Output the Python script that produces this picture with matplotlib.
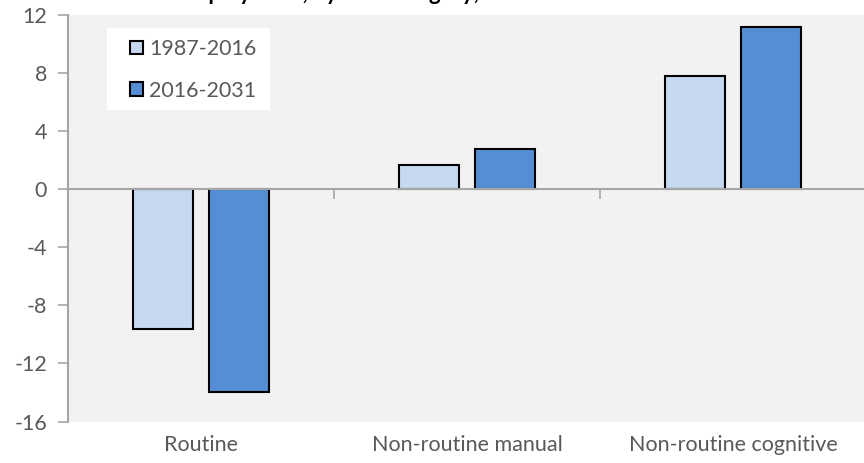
import matplotlib
matplotlib.use("Agg")
import matplotlib.pyplot as plt
from matplotlib.patches import Patch, Rectangle
from matplotlib.transforms import blended_transform_factory
import numpy as np

plt.rcParams['font.family'] = ['Lato', 'DejaVu Sans']

categories = ["Routine", "Non-routine manual", "Non-routine cognitive"]
series_names = ["1987-2016", "2016-2031"]
values_1987_2016 = [-9.6, 1.7, 7.8]
values_2016_2031 = [-14.0, 2.8, 11.2]
y_ticks = [-16, -12, -8, -4, 0, 4, 8, 12]
title = "Employment, by skill category, %"

light = "#C6D9F1"
dark = "#558ED5"
text_col = "#595959"
axis_col = "#A6A6A6"
fs = 15.5

W, H = 864, 463
fig = plt.figure(figsize=(W / 100, H / 100), dpi=100)
fig.patch.set_facecolor("white")

left, right, top, bottom = 68, 866, 15, 421.5
ax = fig.add_axes([left / W, 1 - bottom / H, (right - left) / W, (bottom - top) / H])
ax.set_facecolor("#F2F2F2")

x = np.arange(len(categories))
bw = 0.226
off = 0.143
ax.bar(x - off, values_1987_2016, bw, color=light, edgecolor="black", linewidth=1.5,
       label=series_names[0], zorder=3)
ax.bar(x + off, values_2016_2031, bw, color=dark, edgecolor="black", linewidth=1.5,
       label=series_names[1], zorder=3)

ax.set_xlim(-0.5, len(categories) - 0.5)
ax.set_ylim(y_ticks[0], y_ticks[-1])
ax.set_yticks(y_ticks)
ax.set_yticklabels([str(v) for v in y_ticks])
ax.tick_params(axis="y", direction="out", length=7, width=1.2, color=axis_col,
               labelcolor=text_col, labelsize=fs, pad=8)

for s in ["top", "right"]:
    ax.spines[s].set_visible(False)
ax.spines["left"].set_color(axis_col)
ax.spines["left"].set_linewidth(1.5)
ax.spines["bottom"].set_position(("data", 0))
ax.spines["bottom"].set_color(axis_col)
ax.spines["bottom"].set_linewidth(1.5)
ax.spines["bottom"].set_zorder(4)

ax.set_xticks(x)
ax.set_xticklabels([])
ax.tick_params(axis="x", which="major", length=0)
ax.set_xticks(x[:-1] + 0.5, minor=True)
ax.tick_params(axis="x", which="minor", direction="out", length=7, width=1.2, color=axis_col)

tr = blended_transform_factory(ax.transData, ax.transAxes)
for xi, name in zip(x, categories):
    ax.text(xi, -0.058, name, transform=tr, ha="center", va="center",
            fontsize=fs, color=text_col)

# legend panel
fig.patches.append(Rectangle((107 / W, 1 - 110 / H), 163 / W, 82 / H,
                             transform=fig.transFigure, facecolor="white",
                             edgecolor="none", zorder=5))
handles = [Patch(facecolor=light, edgecolor="black", linewidth=1.5),
           Patch(facecolor=dark, edgecolor="black", linewidth=1.5)]
leg = fig.legend(handles, series_names, loc="upper left",
                 bbox_to_anchor=(130 / W, 1 - 39 / H), bbox_transform=fig.transFigure,
                 frameon=False, fontsize=fs, labelcolor=text_col,
                 handlelength=0.6, handleheight=0.6, handletextpad=0.3,
                 labelspacing=1.0, borderpad=0, borderaxespad=0)
leg.set_zorder(6)

fig.text(177 / W, 1 - 0.5 / H, title, ha="left", va="baseline",
         fontsize=16, fontweight="bold", color="black")

fig.savefig("out.png", dpi=100)
